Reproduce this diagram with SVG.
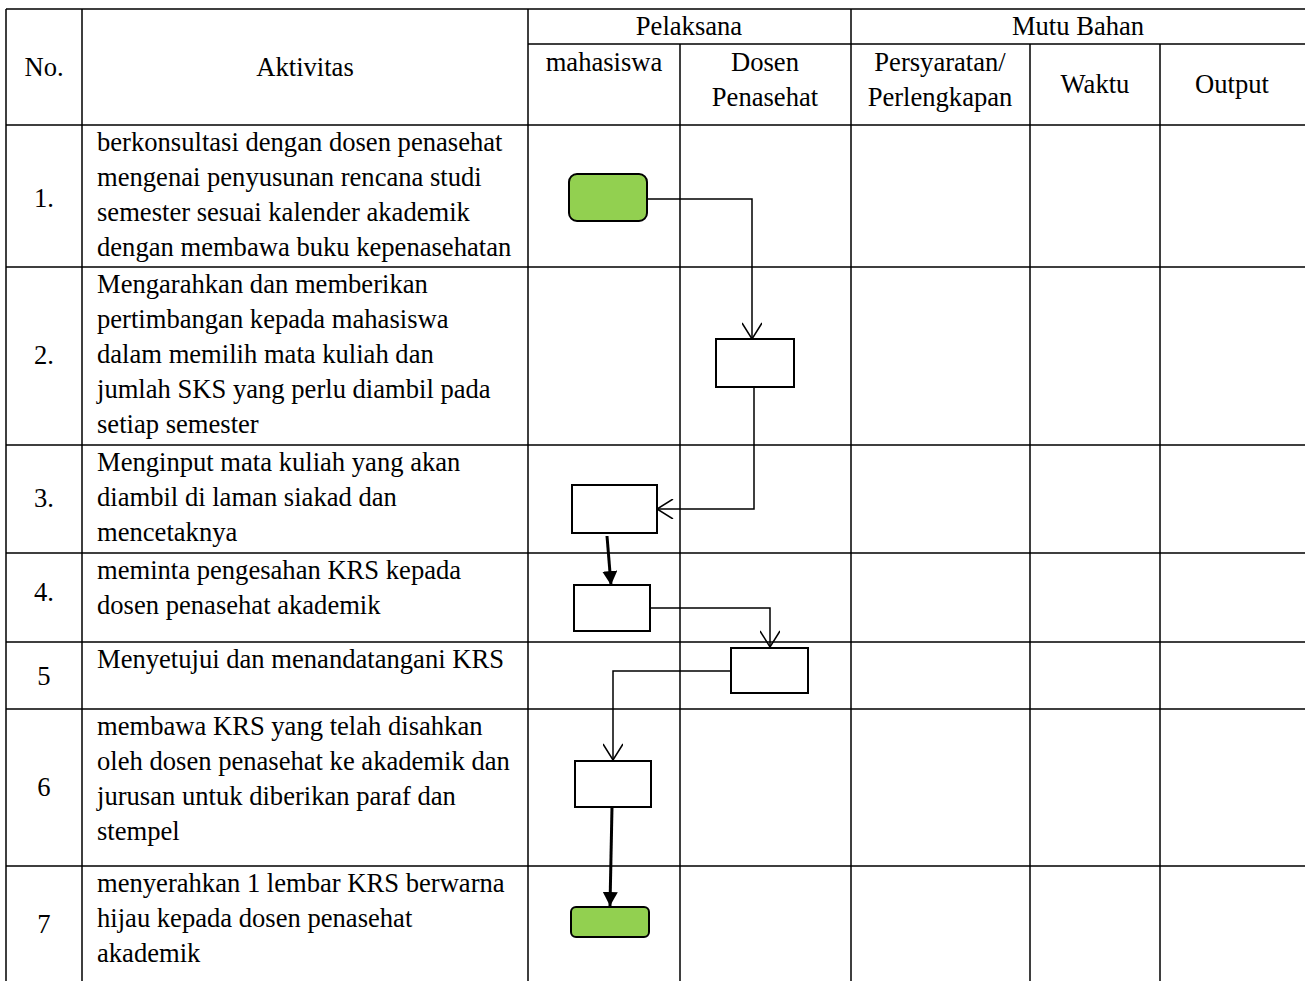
<svg xmlns="http://www.w3.org/2000/svg" width="1305" height="981" viewBox="0 0 1305 981">
<defs>
<style>
.t{font-family:"Liberation Serif","Times New Roman",serif;font-size:26.6px;fill:#000}
.c{text-anchor:middle}
.g{stroke:#000;stroke-width:1.5;fill:none}
.box{fill:#fff;stroke:#000;stroke-width:2}
.start{fill:#92D050;stroke:#000;stroke-width:2}
.con{fill:none;stroke:#000;stroke-width:1.5}
.thick{fill:none;stroke:#000;stroke-width:3}
</style>
<marker id="open" viewBox="0 0 20 20" refX="19" refY="10" markerWidth="20" markerHeight="20" markerUnits="userSpaceOnUse" orient="auto">
<path d="M3,0 L19,10 L3,20" fill="none" stroke="#000" stroke-width="1.5"/>
</marker>
<marker id="fill" viewBox="0 0 14 15" refX="14" refY="7.5" markerWidth="14" markerHeight="15" markerUnits="userSpaceOnUse" orient="auto">
<path d="M0,0 L14,7.5 L0,15 Z" fill="#000"/>
</marker>
</defs>
<rect width="1305" height="981" fill="#fff"/>
<g id="grid">
<path class="g" d="M6,9 H1305 M528,44 H1305 M6,125 H1305 M6,267 H1305 M6,445 H1305 M6,553 H1305 M6,642 H1305 M6,709 H1305 M6,866 H1305"/>
<path class="g" d="M6,9 V981 M82,9 V981 M528,9 V981 M680,44 V981 M851,9 V981 M1030,44 V981 M1160,44 V981"/>
</g>
<g id="header">
<text class="t c" x="44" y="76">No.</text>
<text class="t c" x="305" y="76">Aktivitas</text>
<text class="t c" x="689" y="35">Pelaksana</text>
<text class="t c" x="1078" y="35">Mutu Bahan</text>
<text class="t c" x="604" y="71">mahasiswa</text>
<text class="t c" x="765" y="71">Dosen</text>
<text class="t c" x="765" y="106">Penasehat</text>
<text class="t c" x="940" y="71">Persyaratan/</text>
<text class="t c" x="940" y="106">Perlengkapan</text>
<text class="t c" x="1095" y="93">Waktu</text>
<text class="t c" x="1232" y="93">Output</text>
</g>
<g id="row1">
<text class="t c" x="44" y="207">1.</text>
<text class="t" x="97" y="151">berkonsultasi dengan dosen penasehat</text>
<text class="t" x="97" y="186">mengenai penyusunan rencana studi</text>
<text class="t" x="97" y="221">semester sesuai kalender akademik</text>
<text class="t" x="97" y="256">dengan membawa buku kepenasehatan</text>
</g>
<g id="row2">
<text class="t c" x="44" y="364">2.</text>
<text class="t" x="97" y="293">Mengarahkan dan memberikan</text>
<text class="t" x="97" y="328">pertimbangan kepada mahasiswa</text>
<text class="t" x="97" y="363">dalam memilih mata kuliah dan</text>
<text class="t" x="97" y="398">jumlah SKS yang perlu diambil pada</text>
<text class="t" x="97" y="433">setiap semester</text>
</g>
<g id="row3">
<text class="t c" x="44" y="507">3.</text>
<text class="t" x="97" y="471">Menginput mata kuliah yang akan</text>
<text class="t" x="97" y="506">diambil di laman siakad dan</text>
<text class="t" x="97" y="541">mencetaknya</text>
</g>
<g id="row4">
<text class="t c" x="44" y="601">4.</text>
<text class="t" x="97" y="579">meminta pengesahan KRS kepada</text>
<text class="t" x="97" y="614">dosen penasehat akademik</text>
</g>
<g id="row5">
<text class="t c" x="44" y="685">5</text>
<text class="t" x="97" y="668">Menyetujui dan menandatangani KRS</text>
</g>
<g id="row6">
<text class="t c" x="44" y="796">6</text>
<text class="t" x="97" y="735">membawa KRS yang telah disahkan</text>
<text class="t" x="97" y="770">oleh dosen penasehat ke akademik dan</text>
<text class="t" x="97" y="805">jurusan untuk diberikan paraf dan</text>
<text class="t" x="97" y="840">stempel</text>
</g>
<g id="row7">
<text class="t c" x="44" y="933">7</text>
<text class="t" x="97" y="892">menyerahkan 1 lembar KRS berwarna</text>
<text class="t" x="97" y="927">hijau kepada dosen penasehat</text>
<text class="t" x="97" y="962">akademik</text>
</g>
<g id="n1"><rect class="start" x="569" y="174" width="78" height="47" rx="8"/></g>
<g id="n2"><rect class="box" x="716" y="339" width="78" height="48"/></g>
<g id="n3"><rect class="box" x="572" y="485" width="85" height="48"/></g>
<g id="n4"><rect class="box" x="574" y="585" width="76" height="46"/></g>
<g id="n5"><rect class="box" x="731" y="648" width="77" height="45"/></g>
<g id="n6"><rect class="box" x="575" y="761" width="76" height="46"/></g>
<g id="n7"><rect class="start" x="571" y="907" width="78" height="30" rx="5"/></g>
<g id="connectors">
<path class="con" d="M647,199 H752 V339" marker-end="url(#open)"/>
<path class="con" d="M754,387 V509 H657" marker-end="url(#open)"/>
<path class="thick" d="M607,536 L611,585" marker-end="url(#fill)"/>
<path class="con" d="M650,608 H770 V647" marker-end="url(#open)"/>
<path class="con" d="M731,671 H613 V760" marker-end="url(#open)"/>
<path class="thick" d="M612,807 L610,906" marker-end="url(#fill)"/>
</g>
</svg>
